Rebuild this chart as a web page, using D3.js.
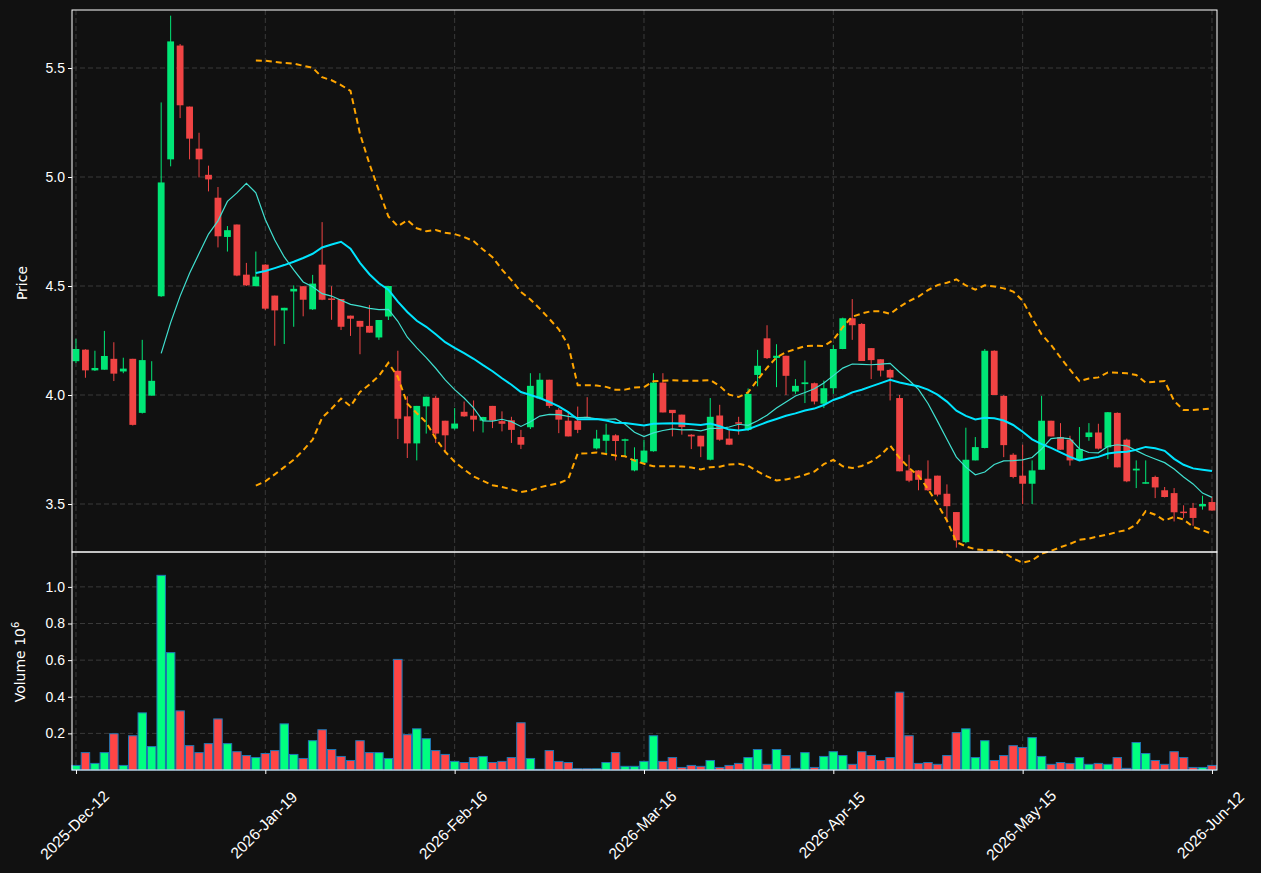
<!DOCTYPE html>
<html>
<head>
<meta charset="utf-8">
<script src="https://cdn.jsdelivr.net/npm/d3@7/dist/d3.min.js"></script>
<style>
  body { margin: 0; background: #111111; }
  svg { display: block; font-family: "DejaVu Sans", sans-serif; }
</style>
</head>
<body>
<svg id="chart" width="1261" height="873"></svg>
<script>
// OHLC, one entry per trading bar
const opens = [4.155,4.208,4.113,4.116,4.166,4.108,4.166,3.918,3.997,4.453,
  5.081,5.603,5.323,5.130,5.010,4.905,4.725,4.782,4.552,4.499,
  4.598,4.456,4.388,4.475,4.499,4.393,4.598,4.443,4.440,4.364,
  4.340,4.317,4.264,4.360,4.111,3.902,3.778,3.948,3.987,3.882,
  3.846,3.923,3.905,3.882,3.950,3.880,3.884,3.807,3.852,3.984,
  4.070,3.932,3.882,3.882,3.900,3.755,3.790,3.815,3.790,3.654,
  3.690,3.742,4.057,3.932,3.910,3.818,3.813,3.703,3.906,3.800,
  3.875,3.840,4.092,4.260,4.170,4.180,4.016,4.050,4.054,3.960,
  4.031,4.211,4.352,4.326,4.215,4.164,4.115,3.986,3.654,3.654,
  3.616,3.630,3.547,3.463,3.325,3.700,3.757,4.203,3.996,3.726,
  3.630,3.593,3.657,3.882,3.807,3.795,3.703,3.807,3.828,3.760,
  3.918,3.795,3.654,3.593,3.624,3.563,3.550,3.465,3.482,3.489,3.509];
const closes = [4.211,4.113,4.124,4.179,4.098,4.121,3.863,4.160,4.065,4.975,
  5.622,5.329,5.176,5.081,4.989,4.728,4.756,4.548,4.503,4.543,
  4.396,4.388,4.400,4.487,4.437,4.511,4.437,4.437,4.313,4.350,
  4.313,4.286,4.344,4.500,3.891,3.778,3.950,3.992,3.823,3.815,
  3.869,3.902,3.887,3.899,3.883,3.868,3.840,3.772,4.042,4.070,
  3.950,3.887,3.810,3.840,3.898,3.800,3.818,3.789,3.797,3.706,
  3.745,4.057,3.920,3.917,3.853,3.810,3.764,3.900,3.795,3.772,
  3.870,4.005,4.134,4.169,4.180,4.088,4.042,4.058,3.970,4.031,
  4.211,4.352,4.320,4.156,4.160,4.112,4.080,3.650,3.607,3.611,
  3.563,3.543,3.490,3.334,3.703,3.761,4.203,4.000,3.770,3.624,
  3.593,3.654,3.882,3.810,3.749,3.700,3.752,3.828,3.754,3.921,
  3.668,3.604,3.662,3.600,3.576,3.532,3.462,3.460,3.436,3.500,3.470];
const highs = [4.258,4.210,4.203,4.294,4.242,4.171,4.166,4.253,4.155,5.342,
  5.740,5.610,5.323,5.203,5.052,4.954,4.775,4.782,4.606,4.658,
  4.600,4.456,4.400,4.503,4.500,4.551,4.793,4.499,4.440,4.364,
  4.340,4.413,4.344,4.500,4.203,3.994,3.950,3.992,3.996,3.882,
  3.940,3.970,3.975,3.900,3.950,3.925,3.900,3.840,4.100,4.100,
  4.070,3.940,3.925,3.947,3.990,3.840,3.868,3.820,3.800,3.760,
  3.795,4.100,4.100,3.930,3.910,3.820,3.813,3.986,3.955,3.840,
  3.900,4.030,4.207,4.320,4.233,4.180,4.073,4.158,4.057,4.066,
  4.230,4.355,4.440,4.330,4.215,4.164,4.120,4.000,3.726,3.655,
  3.700,3.630,3.590,3.463,3.850,3.807,4.211,4.205,4.000,3.733,
  3.772,3.700,3.996,3.882,3.871,3.813,3.853,3.871,3.868,3.922,
  3.920,3.800,3.700,3.700,3.630,3.578,3.573,3.494,3.505,3.538,3.535];
const lows = [4.147,4.079,4.110,4.116,4.064,4.100,3.860,3.915,3.997,4.450,
  5.049,5.270,5.081,4.998,4.934,4.677,4.658,4.545,4.500,4.499,
  4.390,4.226,4.234,4.313,4.361,4.390,4.435,4.345,4.298,4.271,
  4.187,4.286,4.253,4.344,3.798,3.711,3.700,3.823,3.780,3.734,
  3.841,3.900,3.833,3.828,3.848,3.833,3.780,3.752,3.844,3.980,
  3.940,3.825,3.810,3.825,3.895,3.750,3.727,3.700,3.720,3.650,
  3.690,3.740,3.920,3.810,3.818,3.752,3.715,3.700,3.790,3.770,
  3.818,3.835,4.040,4.165,4.036,4.000,4.005,3.963,3.957,3.940,
  4.005,4.210,4.253,4.156,4.073,4.085,3.975,3.650,3.600,3.563,
  3.560,3.535,3.415,3.300,3.320,3.700,3.755,4.000,3.715,3.618,
  3.500,3.500,3.657,3.810,3.749,3.676,3.700,3.790,3.750,3.706,
  3.668,3.600,3.573,3.593,3.527,3.530,3.420,3.435,3.400,3.474,3.470];
// volume in millions
const volumes = [0.025,0.095,0.036,0.095,0.198,0.025,0.187,0.312,0.128,1.063,
  0.641,0.323,0.133,0.095,0.144,0.279,0.144,0.100,0.079,0.068,
  0.090,0.106,0.252,0.085,0.063,0.160,0.220,0.112,0.074,0.052,
  0.160,0.095,0.095,0.063,0.604,0.193,0.225,0.171,0.106,0.085,
  0.047,0.041,0.068,0.074,0.041,0.047,0.068,0.258,0.063,0.004,
  0.106,0.047,0.041,0.007,0.007,0.007,0.041,0.095,0.020,0.020,
  0.047,0.187,0.047,0.068,0.014,0.025,0.020,0.052,0.014,0.025,
  0.036,0.068,0.112,0.031,0.112,0.079,0.009,0.095,0.014,0.074,
  0.100,0.079,0.031,0.100,0.079,0.052,0.068,0.425,0.187,0.036,
  0.041,0.031,0.079,0.204,0.225,0.068,0.160,0.052,0.079,0.133,
  0.123,0.177,0.074,0.031,0.041,0.036,0.068,0.031,0.036,0.031,
  0.068,0.009,0.150,0.090,0.052,0.031,0.100,0.068,0.014,0.014,0.025];
const tickIdx = [0, 20, 40, 60, 80, 100, 120];
const tickLabels = ["2025-Dec-12","2026-Jan-19","2026-Feb-16","2026-Mar-16","2026-Apr-15","2026-May-15","2026-Jun-12"];
const priceTicks = [3.5, 4.0, 4.5, 5.0, 5.5];
const volTicks = [0.2, 0.4, 0.6, 0.8, 1.0];

const UP = "#00e676", DOWN = "#f04444";
const VUP = "#00ff80", VDOWN = "#ff4545";

const bars = opens.map((o, i) => ({ i, o, c: closes[i], h: highs[i], l: lows[i], v: volumes[i] }));

function sma(n) {
  return closes.map((_, i) => i < n - 1 ? null : d3.mean(closes.slice(i - n + 1, i + 1)));
}
const ma10 = sma(10), ma20 = sma(20);
const bbUp = closes.map((_, i) => i < 19 ? null : ma20[i] + 2 * d3.deviation(closes.slice(i - 19, i + 1)) * Math.sqrt(19 / 20));
const bbLo = closes.map((_, i) => i < 19 ? null : ma20[i] - 2 * d3.deviation(closes.slice(i - 19, i + 1)) * Math.sqrt(19 / 20));

const L = 72, R = 1217, pTop = 10, pBot = 552, vTop = 552, vBot = 770;
const svg = d3.select("#chart");
svg.append("rect").attr("width", 1261).attr("height", 873).attr("fill", "#111111");

const x = d3.scaleLinear().domain([-0.42, 120.53]).range([L, R]);
const yP = d3.scaleLinear().domain([3.5 - 48 / 218, 5.5 + 58 / 218]).range([pBot, pTop]);
const yV = d3.scaleLinear().domain([0, 1.0 + 35 / 183.75]).range([vBot, vTop]);
const step = x(1) - x(0);

function panel(y0, y1, yScale, ticks, fmt) {
  const g = svg.append("g");
  // grid
  g.selectAll(".hg").data(ticks).enter().append("line")
    .attr("x1", L).attr("x2", R).attr("y1", d => yScale(d)).attr("y2", d => yScale(d))
    .attr("stroke", "#3a3a3a").attr("stroke-dasharray", "5,3");
  g.selectAll(".vg").data(tickIdx).enter().append("line")
    .attr("x1", d => x(d)).attr("x2", d => x(d)).attr("y1", y0).attr("y2", y1)
    .attr("stroke", "#3a3a3a").attr("stroke-dasharray", "5,3");
  const ax = svg.append("g").attr("transform", `translate(${L},0)`)
    .call(d3.axisLeft(yScale).tickValues(ticks).tickFormat(fmt).tickSize(4));
  ax.select(".domain").remove();
  ax.selectAll("line").attr("stroke", "#fff");
  ax.selectAll("text").attr("fill", "#fff").attr("font-size", 14);
}
panel(pTop, pBot, yP, priceTicks, d3.format(".1f"));
panel(vTop, vBot, yV, volTicks, d3.format(".1f"));

// candles
const cg = svg.append("g");
cg.selectAll(".wick").data(bars).enter().append("line")
  .attr("x1", d => x(d.i)).attr("x2", d => x(d.i))
  .attr("y1", d => yP(d.h)).attr("y2", d => yP(d.l))
  .attr("stroke", d => d.c >= d.o ? UP : DOWN).attr("stroke-width", 1);
cg.selectAll(".body").data(bars).enter().append("rect")
  .attr("x", d => x(d.i) - step * 0.36).attr("width", step * 0.72)
  .attr("y", d => yP(Math.max(d.o, d.c)))
  .attr("height", d => Math.max(1.5, Math.abs(yP(d.o) - yP(d.c))))
  .attr("fill", d => d.c >= d.o ? UP : DOWN);

// indicator lines
function drawLine(vals, color, w, dash) {
  const line = d3.line().defined(d => d != null).x((d, i) => x(i)).y(d => yP(d));
  svg.append("path").datum(vals).attr("d", line).attr("fill", "none")
    .attr("stroke", color).attr("stroke-width", w).attr("stroke-dasharray", dash || null);
}
drawLine(bbUp, "#ffa500", 2, "6,4");
drawLine(bbLo, "#ffa500", 2, "6,4");
drawLine(ma10, "#40e0d0", 1.2);
drawLine(ma20, "#00e5ff", 2);

// volume
svg.append("g").selectAll("rect").data(bars).enter().append("rect")
  .attr("x", d => x(d.i) - step / 2 + 0.5).attr("width", step - 1)
  .attr("y", d => yV(d.v)).attr("height", d => vBot - yV(d.v))
  .attr("fill", d => d.c >= d.o ? VUP : VDOWN)
  .attr("stroke", "#1f77b4").attr("stroke-width", 1);

// frames
[[pTop, pBot], [vTop, vBot]].forEach(([a, b]) => {
  svg.append("rect").attr("x", L).attr("y", a).attr("width", R - L).attr("height", b - a)
    .attr("fill", "none").attr("stroke", "#fff").attr("stroke-width", 1);
});

// x axis
const xa = svg.append("g").attr("transform", `translate(0,${vBot})`)
  .call(d3.axisBottom(x).tickValues(tickIdx).tickFormat((d, i) => tickLabels[i]).tickSize(4));
xa.select(".domain").remove();
xa.selectAll("line").attr("stroke", "#fff");
xa.selectAll("text").attr("fill", "#fff").attr("font-size", 15.5)
  .attr("text-anchor", "middle").attr("y", 0).attr("dy", "0.35em")
  .attr("transform", "translate(-2,55) rotate(-45)");

// titles
svg.append("text").attr("transform", "translate(27,283) rotate(-90)")
  .attr("text-anchor", "middle").attr("fill", "#fff").attr("font-size", 14).text("Price");
const vt = svg.append("text").attr("transform", "translate(25,662) rotate(-90)")
  .attr("text-anchor", "middle").attr("fill", "#fff").attr("font-size", 14);
vt.append("tspan").text("Volume  10");
vt.append("tspan").attr("dy", -6).attr("font-size", 10).text("6");
</script>
</body>
</html>
